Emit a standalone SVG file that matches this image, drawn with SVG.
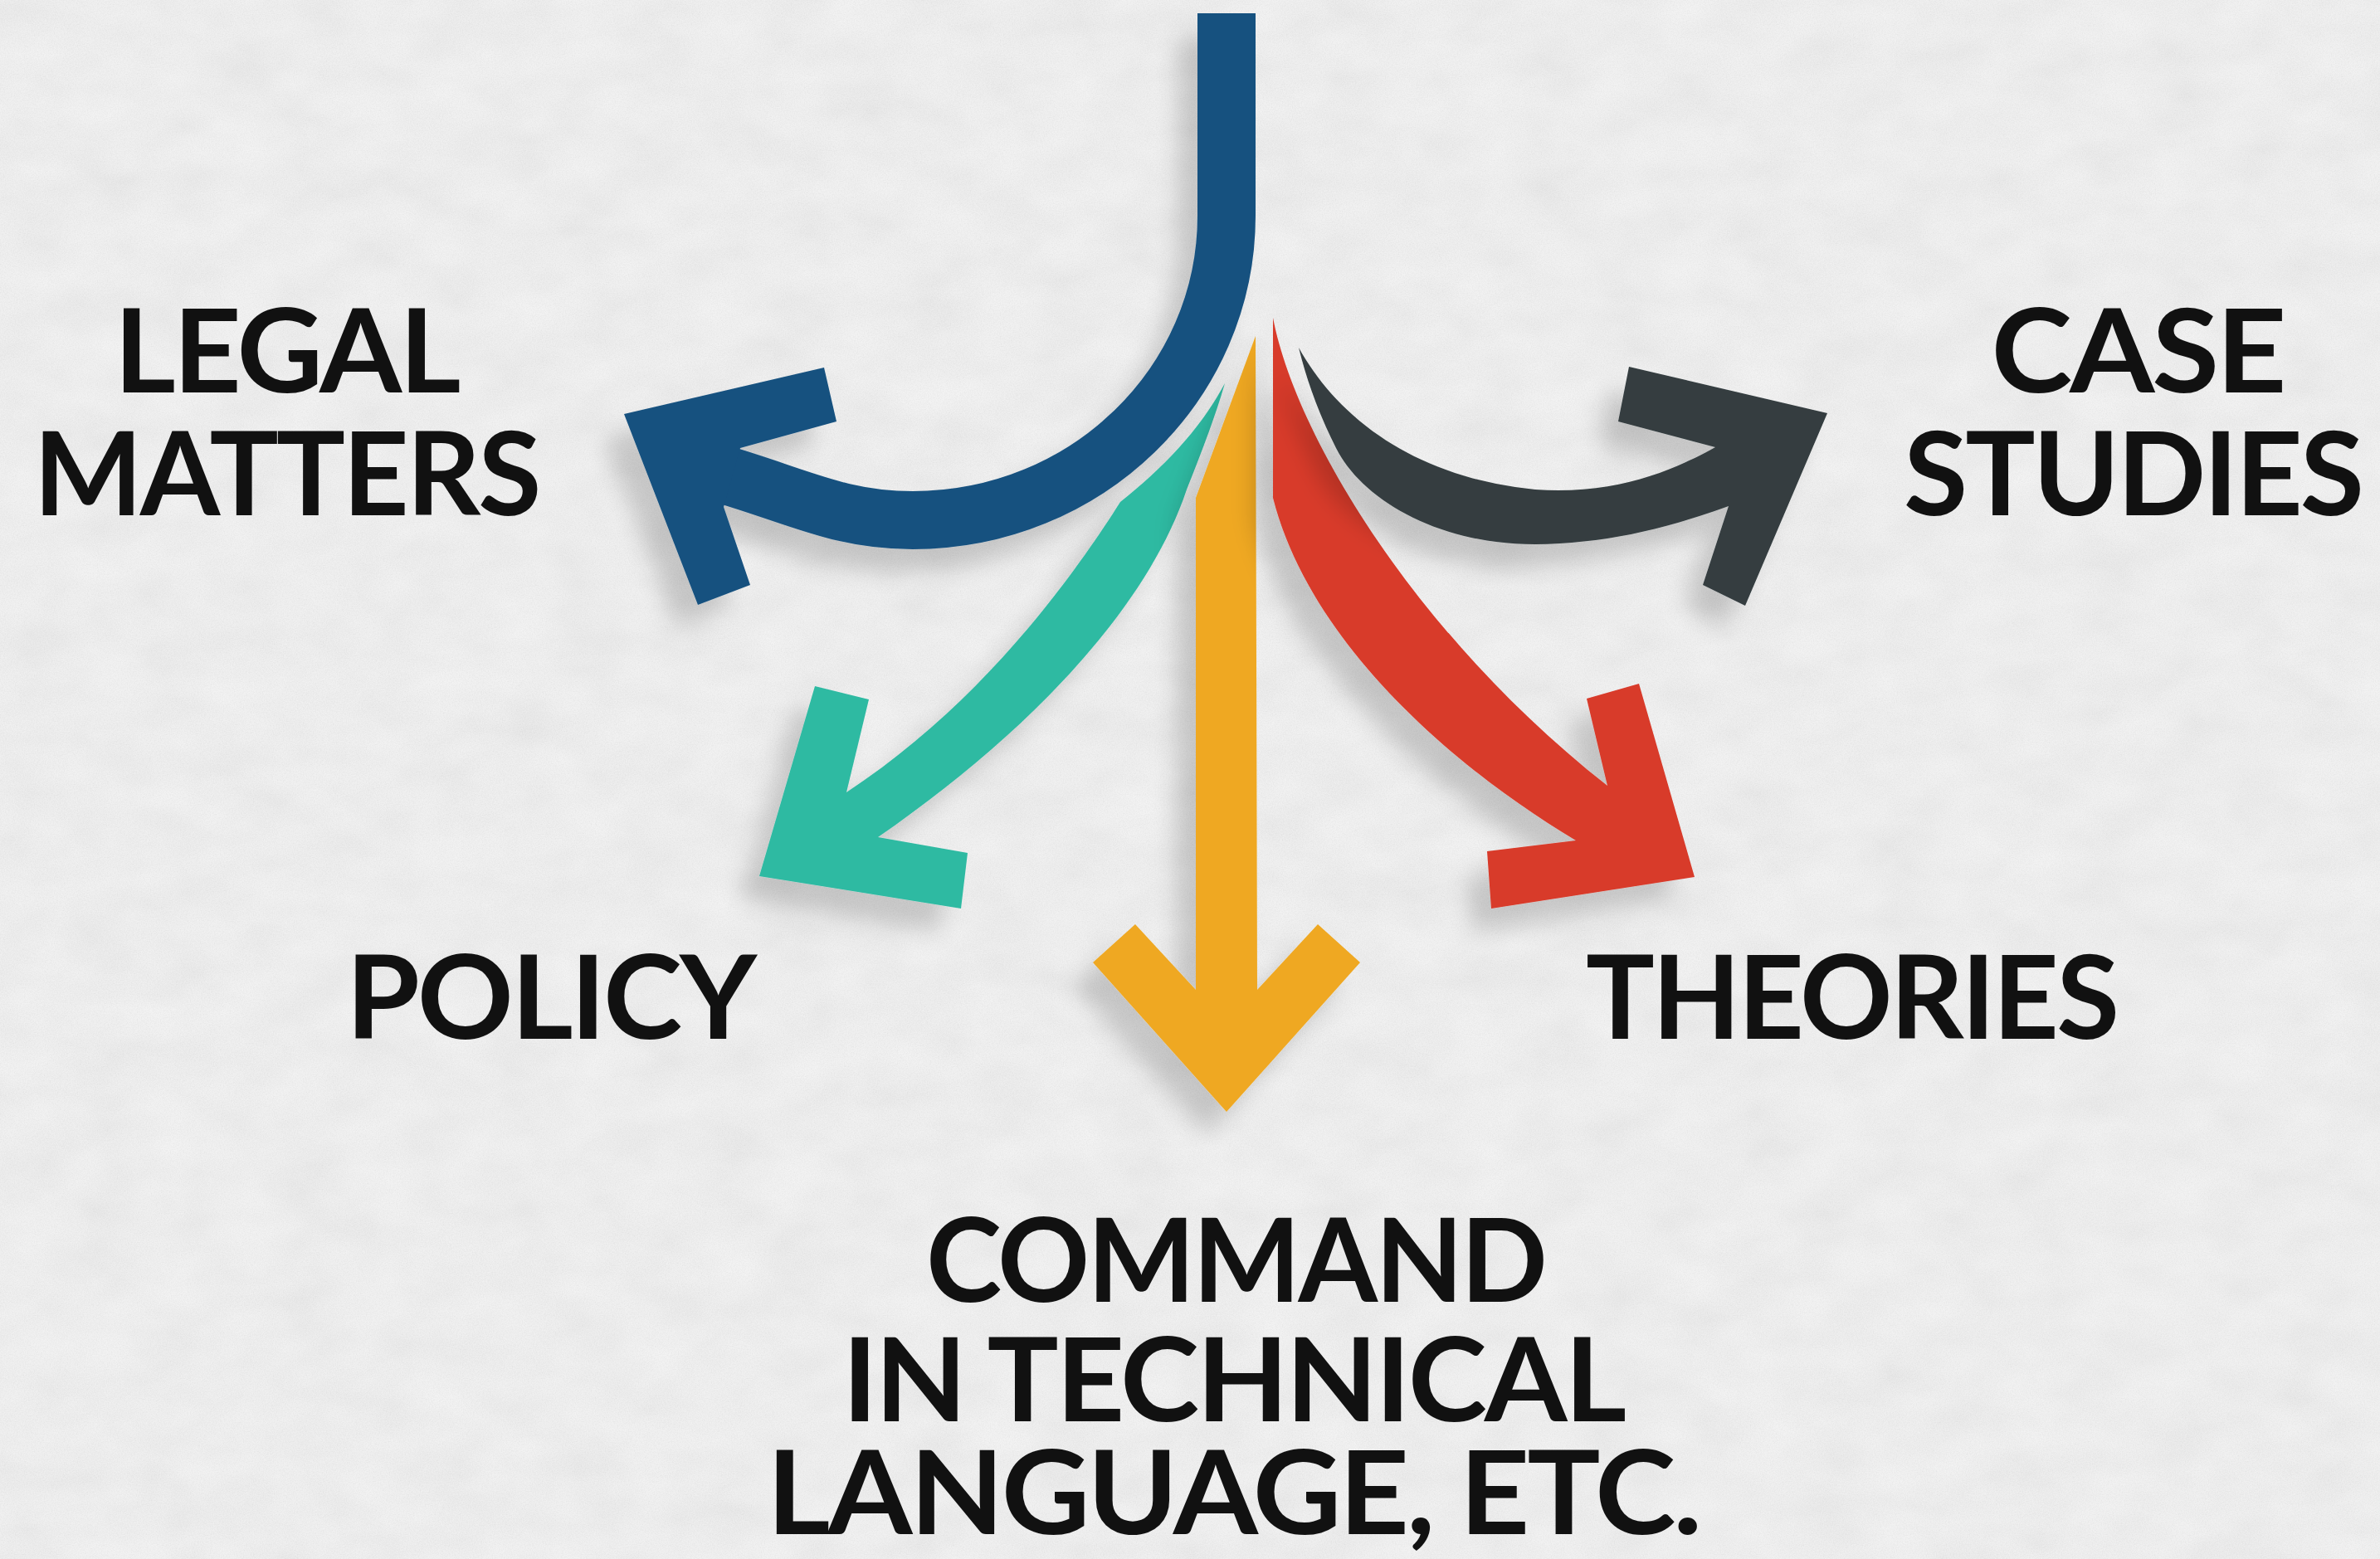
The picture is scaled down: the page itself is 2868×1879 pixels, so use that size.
<svg xmlns="http://www.w3.org/2000/svg" width="2868" height="1879" viewBox="0 0 2868 1879">
  <defs>
    <filter id="paper" x="0" y="0" width="100%" height="100%">
      <feTurbulence type="fractalNoise" baseFrequency="0.75" numOctaves="2" seed="4" result="n"/>
      <feColorMatrix in="n" type="matrix" values="1 0 0 0 0.3  1 0 0 0 0.3  1 0 0 0 0.3  0 0 0 0 0.14"/>
    </filter>
    <filter id="mottle" x="0" y="0" width="100%" height="100%">
      <feTurbulence type="fractalNoise" baseFrequency="0.012 0.02" numOctaves="3" seed="9" result="m"/>
      <feColorMatrix in="m" type="matrix" values="1 0 0 0 0.2  1 0 0 0 0.2  1 0 0 0 0.2  0 0 0 0 0.10"/>
    </filter>
    <filter id="shadow" x="-30%" y="-30%" width="160%" height="160%">
      <feGaussianBlur in="SourceAlpha" stdDeviation="14"/>
      <feOffset dx="-24" dy="28" result="b"/>
      <feComponentTransfer in="b" result="s">
        <feFuncA type="linear" slope="0.17"/>
      </feComponentTransfer>
      <feMerge>
        <feMergeNode in="s"/>
        <feMergeNode in="SourceGraphic"/>
      </feMerge>
    </filter>
  </defs>
  <style>
    .label { font-family: "Lato", "Liberation Sans", sans-serif; font-weight: 700; font-size: 140px; letter-spacing: -3px; fill: #111111; text-anchor: middle; }
    .arrow { filter: url(#shadow); }
    .blue { fill: #17517F; }
    .blue-stroke { fill: none; stroke: #17517F; stroke-width: 70; stroke-linecap: butt; }
    .teal { fill: #2FBAA2; }
    .yellow { fill: #EFA823; }
    .red { fill: #D83A2A; }
    .gray { fill: #343E40; }
  </style>

  <rect x="0" y="0" width="2868" height="1879" fill="#EFEFEF"/>
  <rect x="0" y="0" width="2868" height="1879" filter="url(#mottle)"/>
  <rect x="0" y="0" width="2868" height="1879" filter="url(#paper)"/>

  <g id="connectors">
    <g id="arrow-legal" class="arrow">
      <path class="blue-stroke" d="M1478,16 L1478,260 C1478,463 1309,627 1100,627 C1010,627 960,597 862,569"/>
      <polygon class="blue" points="752,499 993,443 1008,508 892,540 872,611 904,705 841,729"/>
    </g>
    <g id="arrow-policy" class="arrow">
      <path class="teal" d="M1476,462 C1445,520 1400,565 1350,605 C1290,700 1180,850 1020,955 L1047,843 L982,827 L915,1056 L1158,1095 L1166,1028 L1058,1009 C1230,890 1380,740 1430,590 C1450,540 1465,500 1476,462 Z"/>
    </g>
    <g id="arrow-command" class="arrow">
      <path class="yellow" d="M1513,405 L1515,1193 L1588,1114 L1639,1160 L1478,1340 L1317,1160 L1368,1114 L1441,1193 L1441,600 Z"/>
    </g>
    <g id="arrow-theories" class="arrow">
      <path class="red" d="M1534,383 C1560,520 1700,760 1937,947 L1912,842 L1975,824 L2042,1057 L1797,1095 L1792,1026 L1899,1013 C1760,930 1580,780 1534,600 Z"/>
    </g>
    <g id="arrow-case" class="arrow">
      <path class="gray" d="M1565,419 C1610,500 1700,575 1850,590 C1950,597 2020,565 2067,539 L1950,508 L1963,442 L2202,498 L2103,730 L2052,705 L2083,610 C2000,640 1930,655 1850,656 C1730,656 1640,600 1610,540 C1590,500 1575,460 1565,419 Z"/>
    </g>
  </g>

  <g id="node-legal-matters">
    <text class="label" x="345" y="473" textLength="415" lengthAdjust="spacingAndGlyphs">LEGAL</text>
    <text class="label" x="345" y="621" textLength="609" lengthAdjust="spacingAndGlyphs">MATTERS</text>
  </g>
  <g id="node-case-studies">
    <text class="label" x="2576" y="473" textLength="353" lengthAdjust="spacingAndGlyphs">CASE</text>
    <text class="label" x="2570" y="621" textLength="552" lengthAdjust="spacingAndGlyphs">STUDIES</text>
  </g>
  <g id="node-policy">
    <text class="label" x="663" y="1252" textLength="492" lengthAdjust="spacingAndGlyphs">POLICY</text>
  </g>
  <g id="node-theories">
    <text class="label" x="2231" y="1252" textLength="640" lengthAdjust="spacingAndGlyphs">THEORIES</text>
  </g>
  <g id="node-command">
    <text class="label" x="1489" y="1569" textLength="746" lengthAdjust="spacingAndGlyphs">COMMAND</text>
    <text class="label" x="1486" y="1713" textLength="942" lengthAdjust="spacingAndGlyphs">IN TECHNICAL</text>
    <text class="label" x="1486" y="1849" textLength="1124" lengthAdjust="spacingAndGlyphs">LANGUAGE, ETC.</text>
  </g>
</svg>
